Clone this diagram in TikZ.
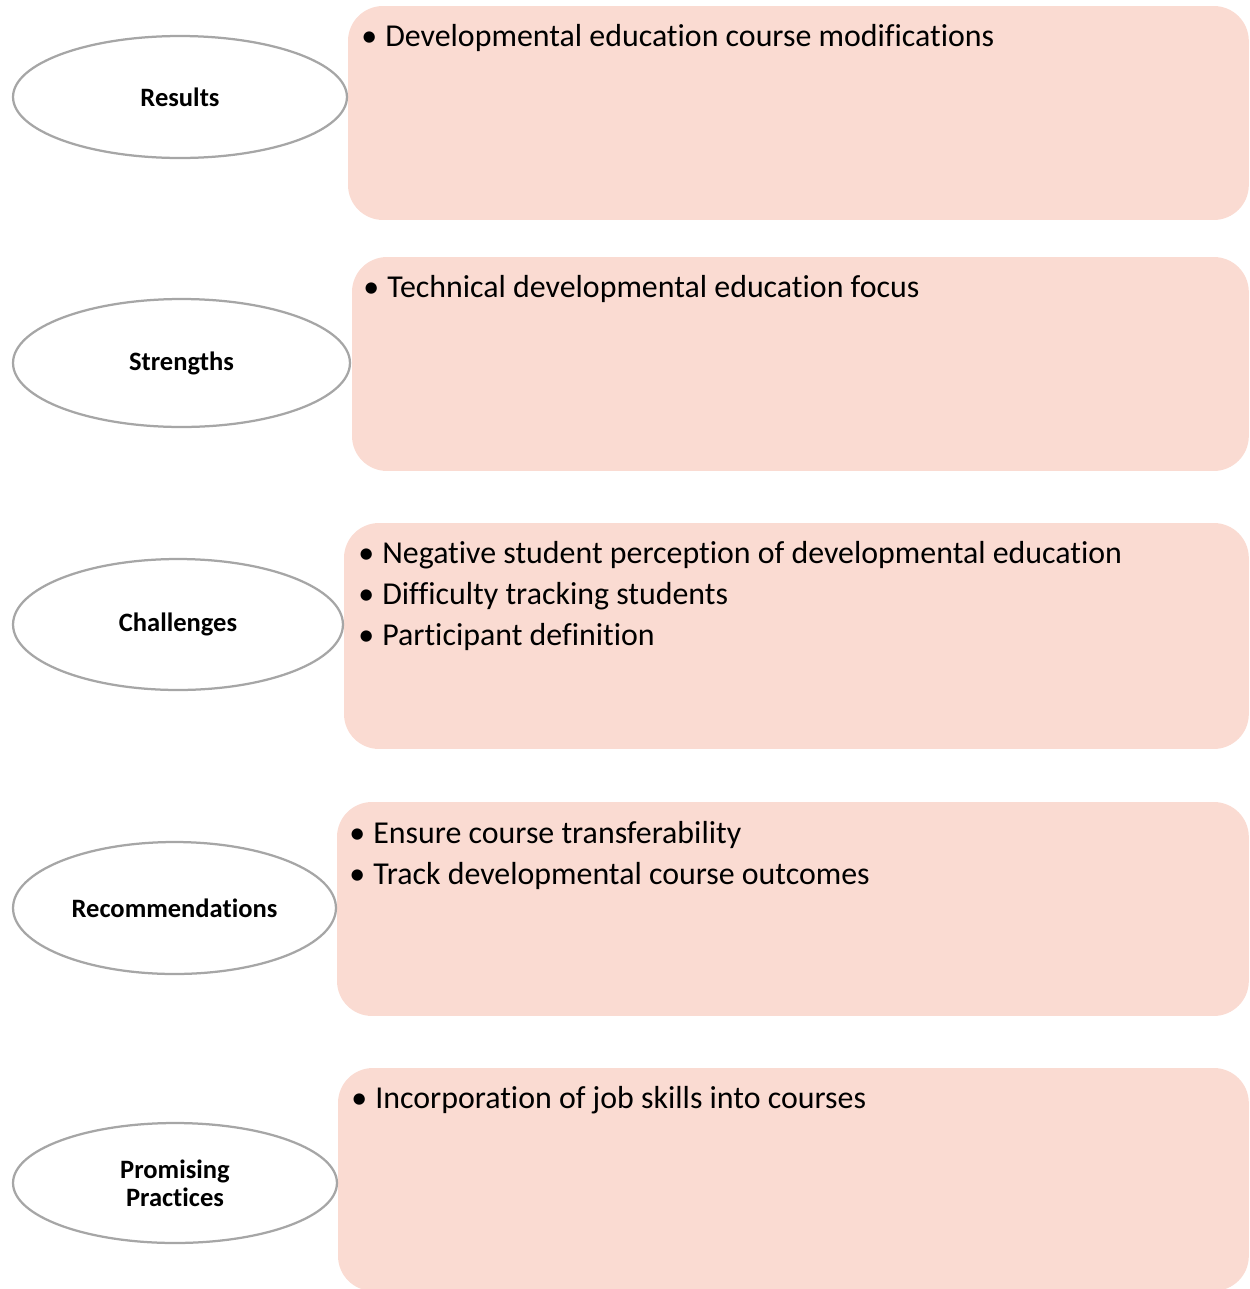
\documentclass[tikz,border=0pt]{standalone}
\usepackage{fontspec}
\setmainfont{Carlito}[Ligatures = NoCommon]
\usetikzlibrary{positioning, shapes.geometric}
\definecolor{panelpink}{HTML}{FADBD2}
\definecolor{rimgray}{HTML}{A6A6A6}

\begin{document}
\begin{tikzpicture}[x = 0.02cm, y = -0.02cm,
	topic/.style = {ellipse, draw = rimgray, line width = 0.045cm, fill = white, inner sep = 0, align = center,
		font = \fontsize{15.1pt}{15.9pt}\selectfont\bfseries},
	panel/.style = {rectangle, fill = panelpink, rounded corners = 0.7cm, inner sep = 0, outer sep = 0, anchor = north west},
	bulletline/.style = {anchor = base west, inner sep = 0, font = \fontsize{18.15pt}{23.3pt}\selectfont}]
	%\draw[help lines] (0,0) grid (1249, 1289);
	\useasboundingbox (0,0) rectangle (1249,1289);
	
	\node (resultsbox) [panel, minimum width = 18.02cm, minimum height = 4.28cm] at (348,6) {};
	\node (strengthsbox) [panel, minimum width = 17.94cm, minimum height = 4.28cm] at (352,257) {};
	\node (challengesbox) [panel, minimum width = 18.10cm, minimum height = 4.52cm] at (344,523) {};
	\node (recsbox) [panel, minimum width = 18.24cm, minimum height = 4.28cm] at (337,802) {};
	\node (practicesbox) [panel, minimum width = 18.22cm, minimum height = 4.46cm] at (338,1068) {};
	
	\node (results) [topic, minimum width = 6.68cm, minimum height = 2.44cm] at (180,97) {Results};
	\node (strengths) [topic, minimum width = 6.74cm, minimum height = 2.56cm] at (181.5,363) {Strengths};
	\node (challenges) [topic, minimum width = 6.60cm, minimum height = 2.62cm] at (178,624.5) {Challenges};
	\node (recs) [topic, minimum width = 6.46cm, minimum height = 2.64cm] at (174.5,908) {Recommendations};
	\node (practices) [topic, minimum width = 6.48cm, minimum height = 2.40cm] at (175,1183) {Promising\\Practices};
	
	\node (results1) [bulletline] at (361,46) {\makebox[0.48cm][l]{\textbullet}Developmental education course modifications};
	\node (strengths1) [bulletline] at (363,297) {\makebox[0.48cm][l]{\textbullet}Technical developmental education focus};
	\node (challenges1) [bulletline] at (358,563) {\makebox[0.48cm][l]{\textbullet}Negative student perception of developmental education};
	\node (challenges2) [bulletline] at (358,604) {\makebox[0.48cm][l]{\textbullet}Difficulty tracking students};
	\node (challenges3) [bulletline] at (358,645) {\makebox[0.48cm][l]{\textbullet}Participant definition};
	\node (recs1) [bulletline] at (349,843) {\makebox[0.48cm][l]{\textbullet}Ensure course transferability};
	\node (recs2) [bulletline] at (349,884) {\makebox[0.48cm][l]{\textbullet}Track developmental course outcomes};
	\node (practices1) [bulletline] at (351,1108) {\makebox[0.48cm][l]{\textbullet}Incorporation of job skills into courses};
\end{tikzpicture}
\end{document}
